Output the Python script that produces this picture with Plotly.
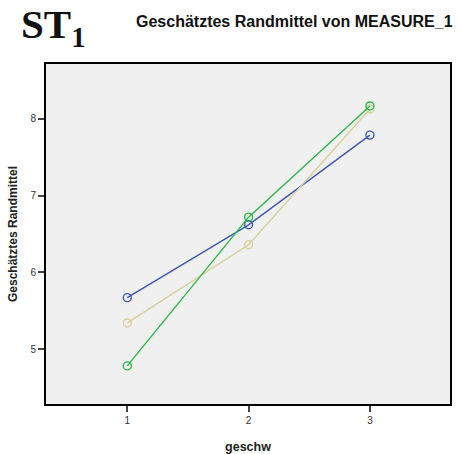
import plotly.graph_objects as go

geschw = [1, 2, 3]
series_names = ["1", "2", "3"]
blue_vals = [5.67, 6.62, 7.79]
beige_vals = [5.34, 6.36, 8.13]
green_vals = [4.78, 6.72, 8.17]
colors = ["#3e58b3", "#d6d09a", "#2db84a"]

fig = go.Figure()
for name, vals, c in zip(series_names, [blue_vals, beige_vals, green_vals], colors):
    fig.add_trace(go.Scatter(
        x=geschw, y=vals, mode="lines+markers", name=name,
        line=dict(color=c, width=1.4),
        marker=dict(symbol="circle-open", size=8, color=c, line=dict(width=1.4, color=c)),
        showlegend=False,
    ))

fig.update_layout(
    width=460, height=454,
    margin=dict(l=46, r=10, t=64, b=50, autoexpand=False),
    paper_bgcolor="white", plot_bgcolor="#f0f0f0",
    font=dict(family="Liberation Sans, Arial, sans-serif", color="#222"),
)
fig.update_xaxes(
    range=[0.33, 3.66], tickvals=geschw, ticktext=["1", "2", "3"],
    showgrid=False, zeroline=False, automargin=False,
    showline=True, linecolor="black", linewidth=2, mirror=True,
    ticks="outside", ticklen=6, tickwidth=2, tickcolor="#444",
    tickfont=dict(size=10, color="#333"),
    title=dict(text="<b>geschw</b>", font=dict(size=12.5, color="#222"), standoff=18),
)
fig.update_yaxes(
    range=[4.283, 8.717], tickvals=[5, 6, 7, 8],
    showgrid=False, zeroline=False, automargin=False,
    showline=True, linecolor="black", linewidth=2, mirror=True,
    ticks="outside", ticklen=6, tickwidth=2, tickcolor="#444",
    tickfont=dict(size=10, color="#333"),
    title=dict(text="<b>Geschätztes Randmittel</b>", font=dict(size=12, color="#222"), standoff=10),
)
fig.add_annotation(
    text="<b>ST<sub>1</sub></b>", xref="paper", yref="paper",
    x=-0.065, y=1.0, yshift=64, xanchor="left", yanchor="top", showarrow=False,
    borderpad=0,
    font=dict(family="Liberation Serif, Times New Roman, serif", size=41, color="#111"),
)
fig.add_annotation(
    text="<b>Geschätztes Randmittel von MEASURE_1</b>", xref="paper", yref="paper",
    x=1.012, y=1.0, yshift=43, xanchor="right", yanchor="middle", showarrow=False,
    font=dict(size=16, color="#111"),
)
fig.write_html("out.html", config={"displayModeBar": False},
               post_script="document.body.style.margin='0';")
